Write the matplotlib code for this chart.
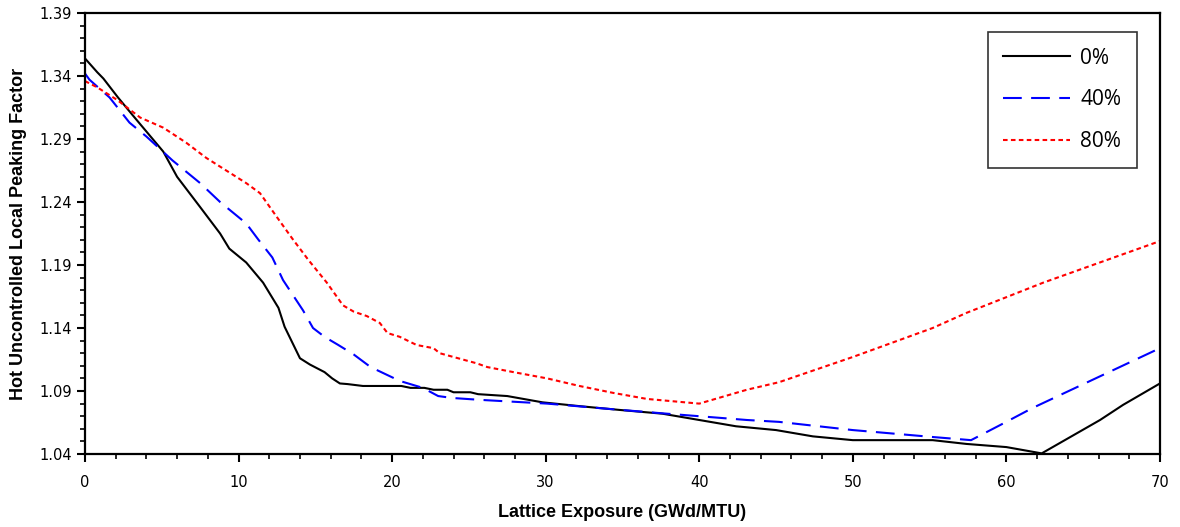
import numpy as np
import matplotlib
matplotlib.use("Agg")
import matplotlib.pyplot as plt
from matplotlib.ticker import MultipleLocator

# ---- Data (exposure GWd/MTU vs peaking factor) ----
x_0 = [0, 0.8, 1.2, 2.15, 3.1, 5.1, 6.0, 7.5, 8.8, 9.4, 10.5, 11.6, 12.6, 13.0,
       14.0, 14.65, 15.6, 16.1, 16.6, 17.1, 18.1, 20.6, 21.2, 22.1, 22.7, 23.6,
       24.0, 25.1, 25.6, 27.5, 29.8, 32.2, 34.8, 37.6, 40.0, 42.4, 45.0, 47.4,
       50.0, 55.2, 57.4, 60.0, 62.3, 66.1, 67.6, 70.0]
y_0 = [1.354, 1.343, 1.338, 1.323, 1.309, 1.280, 1.260, 1.236, 1.215, 1.203,
       1.192, 1.176, 1.156, 1.141, 1.116, 1.111, 1.105, 1.100, 1.096, 1.0955,
       1.094, 1.094, 1.0925, 1.0925, 1.091, 1.091, 1.089, 1.089, 1.0875, 1.086,
       1.081, 1.078, 1.075, 1.072, 1.067, 1.062, 1.059, 1.054, 1.051, 1.051,
       1.048, 1.0455, 1.0405, 1.067, 1.079, 1.096]

x_40 = [0, 0.3, 1.6, 2.9, 4.0, 5.7, 7.5, 8.8, 10.5, 11.3, 12.2, 12.9, 14.2,
        14.85, 15.6, 16.5, 17.5, 18.6, 20.5, 22.0, 23.0, 23.9, 25.7, 30.1,
        34.4, 37.9, 40.0, 43.1, 45.2, 50.0, 55.2, 57.7, 59.6, 61.7, 70.0]
y_40 = [1.342, 1.337, 1.323, 1.303, 1.292, 1.273, 1.255, 1.240, 1.223, 1.210,
        1.196, 1.178, 1.154, 1.140, 1.133, 1.1265, 1.119, 1.109, 1.098, 1.0925,
        1.086, 1.0845, 1.083, 1.080, 1.0755, 1.072, 1.070, 1.067, 1.0655,
        1.059, 1.0535, 1.051, 1.063, 1.0765, 1.124]

x_80 = [0, 0.8, 2.1, 3.6, 5.1, 6.6, 7.9, 9.2, 10.5, 11.4, 12.5, 13.5, 14.55,
        15.75, 16.8, 17.5, 18.35, 19.2, 19.7, 20.5, 21.6, 22.7, 23.1, 25.5,
        26.2, 27.9, 30.1, 32.2, 34.4, 36.6, 40.0, 43.1, 45.2, 50.0, 55.2, 57.4,
        62.4, 70.0]
y_80 = [1.336, 1.331, 1.321, 1.307, 1.299, 1.287, 1.275, 1.265, 1.255, 1.247,
        1.228, 1.211, 1.194, 1.176, 1.158, 1.153, 1.1495, 1.144, 1.136, 1.133,
        1.1265, 1.124, 1.120, 1.112, 1.109, 1.105, 1.100, 1.094, 1.0885,
        1.0837, 1.080, 1.091, 1.097, 1.117, 1.140, 1.152, 1.176, 1.209]

labels = ["0%", "40%", "80%"]

# ---- PLOTTING ----
fig = plt.figure(figsize=(11.8, 5.27), dpi=100)
ax = fig.add_axes([0.072, 0.1385, 0.911, 0.8368])

ax.plot(x_0, y_0, color="black", lw=1.5, label=labels[0])
ax.plot(x_40, y_40, color="blue", lw=1.5, dashes=(9, 4.5), label=labels[1])
ax.plot(x_80, y_80, color="red", lw=1.5, dashes=(2.2, 1.6), label=labels[2])

ax.set_xlim(0, 70)
ax.set_ylim(1.04, 1.39)
ax.set_xticks(np.arange(0, 71, 10))
ax.set_yticks(np.arange(1.04, 1.391, 0.05))
ax.yaxis.set_major_formatter(plt.FormatStrFormatter("%.2f"))
ax.xaxis.set_minor_locator(MultipleLocator(2))
ax.yaxis.set_minor_locator(MultipleLocator(0.01))
ax.tick_params(which="major", direction="out", length=6, width=1.5, labelsize=10.5)
ax.tick_params(which="minor", direction="out", length=3.5, width=1.2)
ax.tick_params(axis="x", pad=9)
for s in ax.spines.values():
    s.set_linewidth(1.6)

ax.set_xlabel("Lattice Exposure (GWd/MTU)", fontsize=13, fontweight="bold",
              family="Liberation Sans", labelpad=10)
ax.set_ylabel("Hot Uncontrolled Local Peaking Factor", fontsize=13,
              fontweight="bold", family="Liberation Sans", labelpad=9)

leg = ax.legend(loc="upper right", bbox_to_anchor=(0.9786, 0.957),
                prop={"family": "Open Sans", "size": 15},
                frameon=True, fancybox=False, edgecolor="black",
                handlelength=3.2, handletextpad=0.5, labelspacing=1.0,
                borderpad=0.75, borderaxespad=0)
leg.get_frame().set_linewidth(1.2)

fig.savefig("out.png", dpi=100)
